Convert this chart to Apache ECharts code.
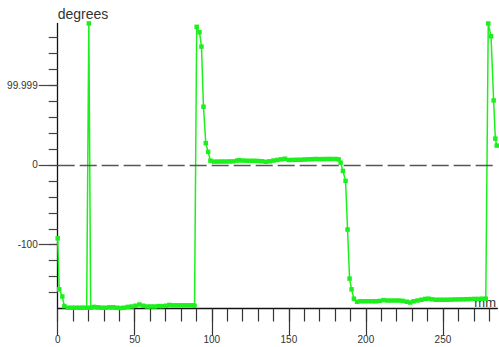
<!DOCTYPE html>
<html>
<head>
<meta charset="utf-8">
<script src="https://cdn.jsdelivr.net/npm/echarts@6/dist/echarts.min.js"></script>
<style>html,body{margin:0;padding:0;background:#fff;}#c{width:499px;height:347px;}</style>
</head>
<body>
<div id="c"></div>
<script>
// positions along the track, mm
const positionMm = [
  0, 1.0, 3.0, 4.3, 6.5, 9, 11.5, 14, 16.5, 18.8, 20.2, 21.4, 23.5, 26, 28.5, 31, 33.5, 36, 38.5, 40.5,
  43, 45.5, 48, 50.5, 53, 55.5, 58, 60.5, 63, 65.5, 68, 70.5, 72.5, 75, 77.5, 80, 82.5, 85, 87.5, 88.8,
  90.2, 92.0, 93.3, 94.6, 96.1, 97.6, 99.1, 101.5, 104, 106.5, 109, 111.5, 114, 116.5, 117.8, 120, 122.5,
  125, 127.5, 130, 132.5, 135, 137.5, 140, 142.5, 145, 147.5, 150, 152.5, 155, 157.5, 160, 162.5, 165,
  167.5, 170, 172.5, 175, 177.5, 180.3, 182.3, 183.6, 185.1, 186.8, 188.1, 189.4, 190.7, 192.2, 194.3,
  196.5, 199, 201.5, 204, 206.5, 209, 211.5, 214, 216.5, 219, 221.5, 224, 226.5, 228.8, 231, 233.5, 236,
  238.5, 240.7, 243, 245.5, 248, 250.5, 253, 255.5, 258, 260.5, 263, 265.5, 268, 270.5, 273, 275.5, 277.8,
  279.4, 281.2, 282.9, 284.0, 284.9
];
// phase, degrees
const phaseDeg = [
  -92, -156, -165, -177, -179, -179, -179, -179, -179, -179, 177.4, -179, -178, -178.5, -179, -179, -178.5, -178.5, -179, -179.5,
  -179, -178, -177.5, -176.5, -175, -176.5, -177.5, -177.5, -177.5, -177, -177, -176.5, -175.5, -176, -176, -176, -176, -176, -176, -176.5,
  173.2, 166.4, 148.4, 73, 27.3, 16.4, 5.4, 4.2, 4.2, 4.3, 4.3, 4.4, 4.5, 5.5, 5.9, 5.5, 5.3,
  5.2, 5.2, 5, 4.6, 4.0, 4.5, 5.5, 6.3, 7, 7.8, 6.2, 6.3, 6.5, 6.5, 6.8, 7, 7.2,
  7.5, 7.3, 7.4, 7.5, 7.5, 7.5, 7, 2.9, -7.5, -20, -81, -142.5, -156, -167.7, -171.5,
  -171, -171, -171, -171, -171, -170.5, -169.5, -170, -170, -170, -170, -170.5, -171.5, -172.5, -171, -170, -169,
  -168, -167.7, -168.5, -169, -169, -169, -169, -168.8, -168.7, -168.6, -168.5, -168.4, -168.2, -168, -168, -167.8, -167.7,
  177.4, 161.4, 80.9, 33, 24.3
];
const xMinorTicks = [0,10,20,30,40,50,60,70,80,90,100,110,120,130,140,150,160,170,180,190,200,210,220,230,240,250,260,270,280];
const xMajorTicks = [0, 50, 100, 150, 200, 250];
const xTickLabels = ['0', '50', '100', '150', '200', '250'];
const yMinorTicks = [-160,-140,-120,-100,-80,-60,-40,-20,0,20,40,60,80,100,120,140,160];
const yMajorTicks = [-100, 0, 99.999];
const yTickLabels = ['-100', '0', '99.999'];

const X_MIN = 0, X_MAX = 285.3, Y_MIN = -180, Y_MAX = 177.5;
const GREEN = '#1cf01c';
const FONT = 'Liberation Sans, Arial, sans-serif';

const chart = echarts.init(document.getElementById('c'), null, {renderer: 'svg'});
chart.setOption({
  animation: false,
  backgroundColor: '#fff',
  grid: {left: 57.7, right: 0, top: 23.4, bottom: 38.5, containLabel: false},
  xAxis: [
    {
      type: 'value', min: X_MIN, max: X_MAX, position: 'bottom',
      axisLine: {show: true, onZero: false, lineStyle: {color: '#111', width: 1.3}},
      axisTick: {show: true, length: 13, customValues: xMinorTicks, lineStyle: {color: '#333', width: 1.2}},
      axisLabel: {show: false},
      splitLine: {show: false},
      name: 'mm', nameLocation: 'end', nameGap: -23,
      nameTextStyle: {fontFamily: FONT, fontSize: 13, color: '#333', align: 'left', verticalAlign: 'bottom'}
    },
    {
      type: 'value', min: X_MIN, max: X_MAX, position: 'bottom',
      axisLine: {show: false, onZero: false},
      axisTick: {show: true, length: 27, customValues: xMajorTicks, lineStyle: {color: '#333', width: 1.2}},
      axisLabel: {show: true, customValues: xMajorTicks, margin: 26, fontFamily: FONT, fontSize: 10, color: '#333',
        formatter: v => xTickLabels[xMajorTicks.indexOf(v)] ?? ''},
      splitLine: {show: false}
    }
  ],
  yAxis: [
    {
      type: 'value', min: Y_MIN, max: Y_MAX, position: 'left',
      axisLine: {show: true, onZero: false, lineStyle: {color: '#111', width: 1.3}},
      axisTick: {show: true, length: 9, customValues: yMinorTicks, lineStyle: {color: '#444', width: 1.2}},
      axisLabel: {show: false},
      splitLine: {show: false},
      name: 'degrees', nameLocation: 'end', nameGap: 2,
      nameTextStyle: {fontFamily: FONT, fontSize: 14, color: '#333', align: 'left', verticalAlign: 'bottom'}
    },
    {
      type: 'value', min: Y_MIN, max: Y_MAX, position: 'left',
      axisLine: {show: false, onZero: false},
      axisTick: {show: true, length: 19, customValues: yMajorTicks, lineStyle: {color: '#444', width: 1.2}},
      axisLabel: {show: true, customValues: yMajorTicks, margin: 20, fontFamily: FONT, fontSize: 10, color: '#333',
        formatter: v => yTickLabels[yMajorTicks.indexOf(v)] ?? ''},
      splitLine: {show: false}
    }
  ],
  series: [{
    type: 'line',
    xAxisIndex: 0, yAxisIndex: 0,
    data: positionMm.map((x, i) => [x, phaseDeg[i]]),
    showSymbol: true, symbol: 'rect', symbolSize: 4.5,
    lineStyle: {color: GREEN, width: 1.5},
    itemStyle: {color: GREEN},
    clip: true,
    markLine: {
      silent: true, symbol: 'none', label: {show: false},
      lineStyle: {color: '#555', width: 1.3, type: [17, 5]},
      data: [{yAxis: 0}]
    }
  }]
});
</script>
</body>
</html>
